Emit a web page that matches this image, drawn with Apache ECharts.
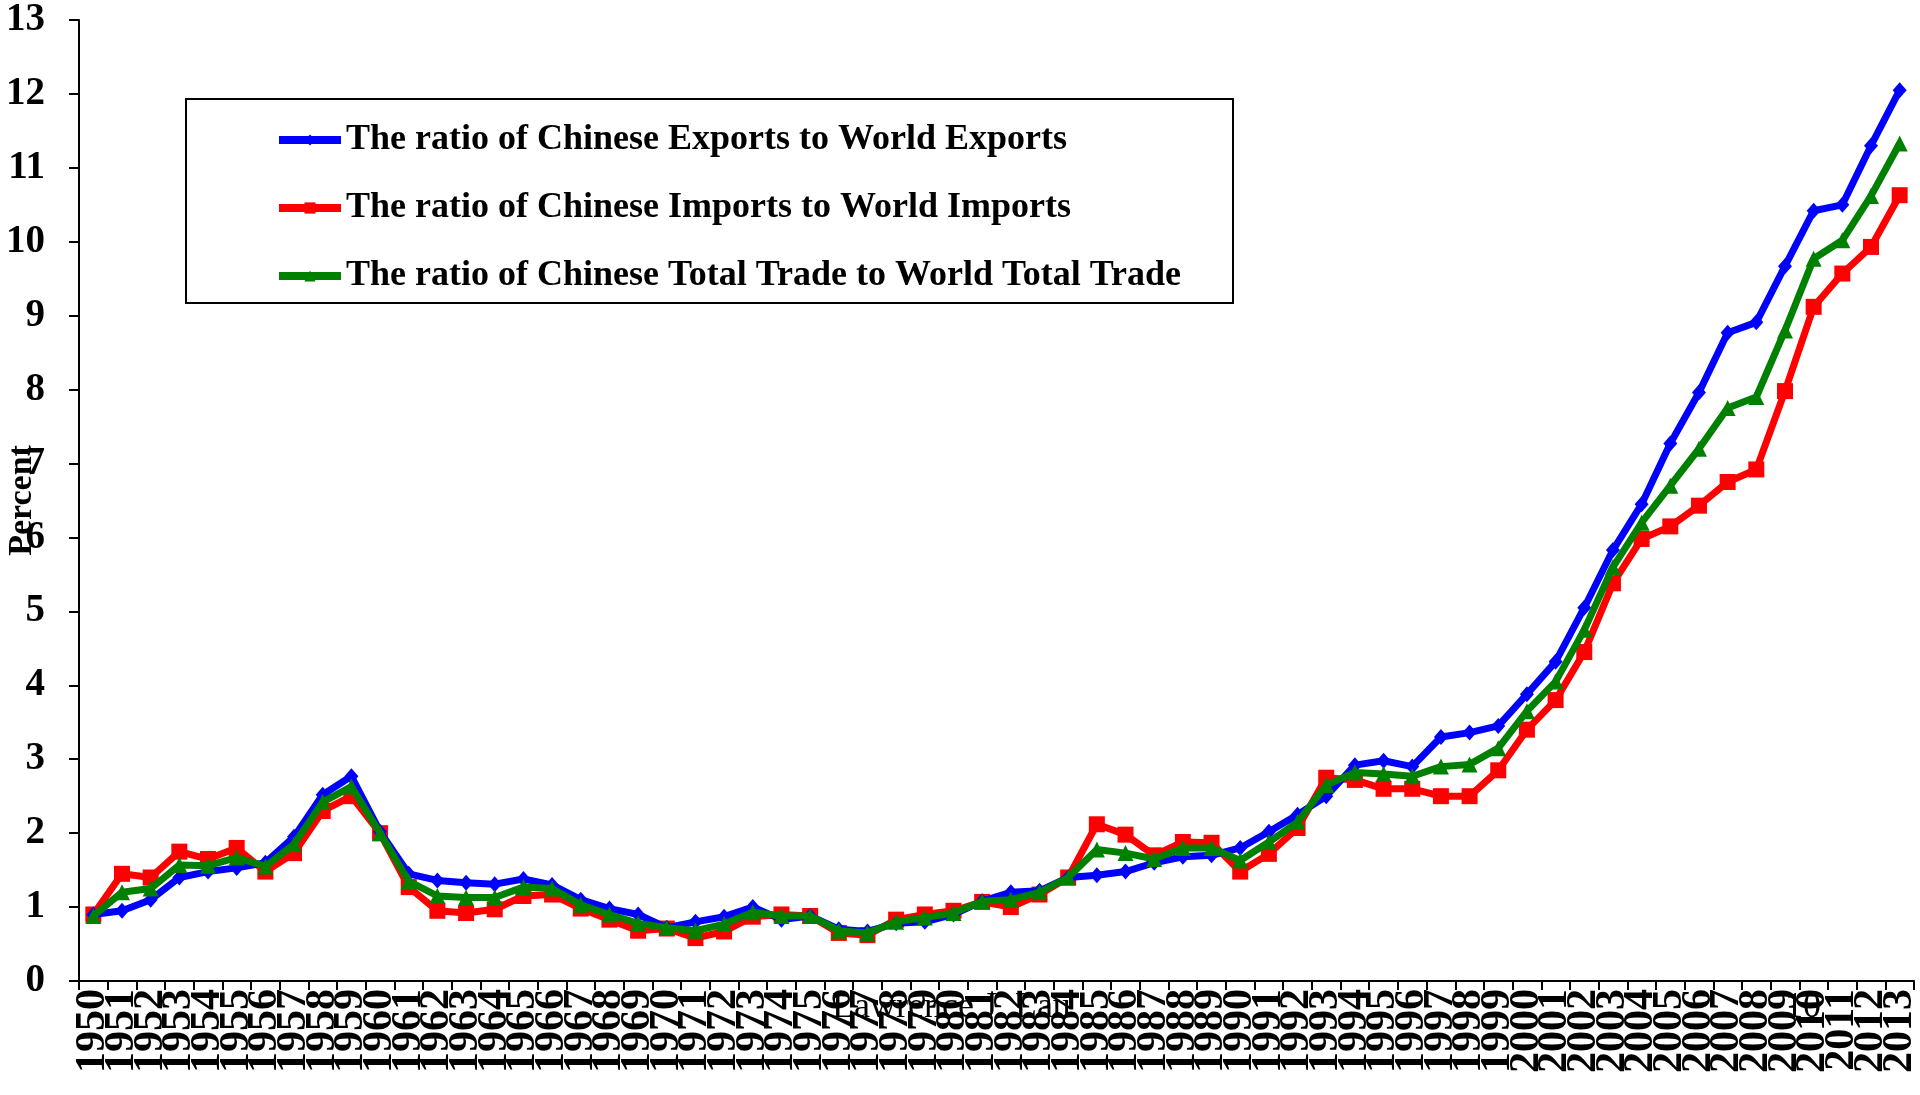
<!DOCTYPE html>
<html>
<head>
<meta charset="utf-8">
<script src="https://cdn.jsdelivr.net/npm/echarts@6/dist/echarts.min.js"></script>
<style>html,body{margin:0;padding:0;background:#fff;}#c{width:1920px;height:1095px;}</style>
</head>
<body>
<div id="c"></div>
<script>
const years = [];
for (let y = 1950; y <= 2013; y++) years.push(String(y));

const exportsRatio = [0.90,0.95,1.10,1.40,1.48,1.53,1.60,1.95,2.52,2.77,
  2.02,1.45,1.36,1.33,1.31,1.38,1.30,1.10,0.98,0.90,
  0.72,0.80,0.87,1.00,0.83,0.88,0.70,0.67,0.78,0.80,
  0.90,1.08,1.20,1.22,1.40,1.43,1.48,1.60,1.68,1.70,
  1.80,2.02,2.25,2.50,2.92,2.98,2.90,3.30,3.36,3.45,
  3.88,4.32,5.05,5.83,6.45,7.27,7.96,8.77,8.91,9.67,
  10.42,10.50,11.30,12.05];

const importsRatio = [0.90,1.45,1.40,1.75,1.65,1.80,1.48,1.73,2.30,2.50,
  2.00,1.27,0.95,0.92,0.97,1.15,1.17,0.98,0.83,0.68,
  0.71,0.58,0.67,0.87,0.90,0.88,0.65,0.62,0.83,0.90,
  0.95,1.07,1.00,1.17,1.40,2.12,1.98,1.70,1.88,1.87,
  1.48,1.72,2.07,2.75,2.72,2.60,2.60,2.50,2.50,2.85,
  3.40,3.80,4.45,5.38,5.98,6.15,6.43,6.75,6.92,7.98,
  9.12,9.57,9.93,10.63];

const totalRatio = [0.88,1.20,1.25,1.57,1.56,1.67,1.55,1.85,2.42,2.63,
  2.00,1.35,1.15,1.13,1.13,1.27,1.25,1.03,0.90,0.78,
  0.72,0.68,0.77,0.93,0.88,0.88,0.68,0.65,0.80,0.86,
  0.92,1.08,1.10,1.20,1.40,1.78,1.73,1.65,1.80,1.80,
  1.63,1.88,2.15,2.65,2.82,2.80,2.77,2.90,2.93,3.15,
  3.65,4.05,4.75,5.60,6.20,6.70,7.20,7.75,7.90,8.80,
  9.77,10.02,10.62,11.33];

const seriesNames = [
  'The ratio of Chinese Exports to World Exports',
  'The ratio of Chinese Imports to World Imports',
  'The ratio of Chinese Total Trade to World Total Trade'
];

const FONT = '"Liberation Serif", "Times New Roman", serif';
const chart = echarts.init(document.getElementById('c'));
chart.setOption({
  backgroundColor: '#fff',
  animation: false,
  grid: { left: 79, right: 6, top: 20, bottom: 114, containLabel: false, outerBoundsMode: 'none' },
  legend: {
    orient: 'vertical',
    left: 270,
    top: 117,
    padding: 5,
    itemWidth: 62,
    itemHeight: 14,
    itemGap: 32,
    lineStyle: { width: 8 },
    textStyle: { fontFamily: FONT, fontWeight: 'bold', fontSize: 36, color: '#000', lineHeight: 36 },
    data: seriesNames
  },
  graphic: [
    { type: 'rect', shape: { x: 186, y: 99, width: 1047, height: 204 },
      style: { fill: 'none', stroke: '#000', lineWidth: 2 }, z: 1 },
    { type: 'text', left: 832, top: 990, z: 100,
      style: { text: 'Lawrence J. Lau', font: '36px ' + FONT, fill: '#000' } },
    { type: 'text', left: 1785, top: 990, z: 100,
      style: { text: '10', font: '36px ' + FONT, fill: '#000' } }
  ],
  xAxis: {
    type: 'category',
    data: years,
    boundaryGap: true,
    axisLine: { lineStyle: { color: '#000', width: 2 } },
    axisTick: { show: true, alignWithLabel: false, length: 9, lineStyle: { color: '#000', width: 2 } },
    axisLabel: { interval: 0, rotate: 90, margin: 8, hideOverlap: false, fontFamily: FONT, fontWeight: 'bold', fontSize: 42, color: '#000' },
    splitLine: { show: false }
  },
  yAxis: {
    type: 'value',
    min: 0, max: 13, interval: 1,
    name: 'Percent',
    nameLocation: 'middle',
    nameRotate: 90,
    nameGap: 40,
    nameMoveOverlap: false,
    nameTextStyle: { fontFamily: FONT, fontWeight: 'bold', fontSize: 34, color: '#000', padding: [0, 0, 0, 0] },
    axisLine: { show: true, lineStyle: { color: '#000', width: 2 } },
    axisTick: { show: true, length: 10, lineStyle: { color: '#000', width: 2 } },
    axisLabel: { margin: 34, fontFamily: FONT, fontWeight: 'bold', fontSize: 39, color: '#000' },
    splitLine: { show: false }
  },
  series: [
    { name: seriesNames[0], type: 'line', data: exportsRatio, symbol: 'diamond', symbolSize: [14, 16],
      lineStyle: { color: '#0000FF', width: 7 }, itemStyle: { color: '#0000FF' }, z: 3 },
    { name: seriesNames[1], type: 'line', data: importsRatio, symbol: 'rect', symbolSize: 16,
      lineStyle: { color: '#FF0000', width: 7 }, itemStyle: { color: '#FF0000' }, z: 2 },
    { name: seriesNames[2], type: 'line', data: totalRatio, symbol: 'triangle', symbolSize: 16,
      lineStyle: { color: '#008000', width: 7 }, itemStyle: { color: '#008000' }, z: 4 }
  ]
});
</script>
</body>
</html>
